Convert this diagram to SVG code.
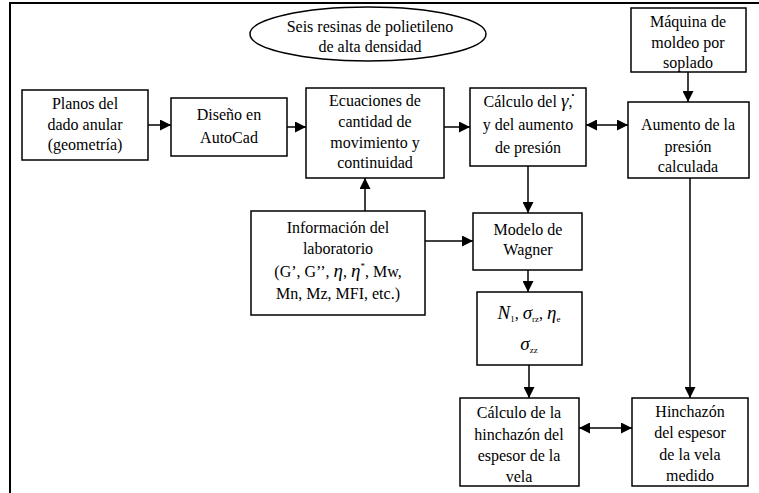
<svg xmlns="http://www.w3.org/2000/svg" width="759" height="493" viewBox="0 0 759 493">
<defs>
<style>
.box{fill:#fff;stroke:#000;stroke-width:1.5}
.t{font-family:"Liberation Serif","Times New Roman",serif;font-size:16px;fill:#000;text-anchor:middle}
.c{fill:none;stroke:#000;stroke-width:1.5;marker-end:url(#ah)}
.d{marker-start:url(#ah)}
.i{font-style:italic}
.m{font-style:italic;font-size:19px}
.s{font-size:9px}
</style>
<marker id="ah" markerUnits="userSpaceOnUse" markerWidth="11" markerHeight="11" refX="10" refY="5" orient="auto-start-reverse" viewBox="0 0 10 10">
<path d="M0,0 L10,5 L0,10 z" fill="#000"/>
</marker>
</defs>
<rect width="759" height="493" fill="#fff"/>
<path d="M10,493 V3 H759" fill="none" stroke="#000" stroke-width="2"/>

<g id="connectors">
<path class="c" d="M148,125 H171"/>
<path class="c" d="M287,127 H306"/>
<path class="c" d="M444,127 H470"/>
<path class="c d" d="M586,125 H628"/>
<path class="c" d="M688,72 V102"/>
<path class="c" d="M365,211 V178"/>
<path class="c" d="M425,241 H473"/>
<path class="c" d="M528,166 V213"/>
<path class="c" d="M528,270 V292"/>
<path class="c" d="M529,365 V398"/>
<path class="c" d="M690,178 V398"/>
<path class="c d" d="M579,428 H632"/>
</g>

<g id="resinas">
<ellipse class="box" cx="368" cy="34" rx="118" ry="27"/>
<text class="t" x="370" y="32">Seis resinas de polietileno</text>
<text class="t" x="370" y="52">de alta densidad</text>
</g>

<g id="planos">
<rect class="box" x="22" y="90" width="126" height="70"/>
<text class="t" x="85" y="109">Planos del</text>
<text class="t" x="85" y="130">dado anular</text>
<text class="t" x="85" y="150">(geometría)</text>
</g>

<g id="diseno">
<rect class="box" x="171" y="98" width="116" height="58"/>
<text class="t" x="229" y="120">Diseño en</text>
<text class="t" x="229" y="143">AutoCad</text>
</g>

<g id="ecuaciones">
<rect class="box" x="306" y="88" width="138" height="90"/>
<text class="t" x="375" y="106">Ecuaciones de</text>
<text class="t" x="375" y="127">cantidad de</text>
<text class="t" x="375" y="148">movimiento y</text>
<text class="t" x="375" y="168">continuidad</text>
</g>

<g id="calculo-gamma">
<rect class="box" x="470" y="88" width="116" height="78"/>
<text class="t" x="528" y="107">Cálculo del <tspan class="m">γ̇</tspan>,</text>
<text class="t" x="528" y="130">y del aumento</text>
<text class="t" x="528" y="153">de presión</text>
</g>

<g id="maquina">
<rect class="box" x="631" y="8" width="115" height="64"/>
<text class="t" x="688" y="27">Máquina de</text>
<text class="t" x="688" y="48">moldeo por</text>
<text class="t" x="688" y="68">soplado</text>
</g>

<g id="aumento">
<rect class="box" x="628" y="102" width="121" height="76"/>
<text class="t" x="688" y="130">Aumento de la</text>
<text class="t" x="688" y="152">presión</text>
<text class="t" x="688" y="172">calculada</text>
</g>

<g id="informacion">
<rect class="box" x="251" y="211" width="174" height="104"/>
<text class="t" x="338" y="233">Información del</text>
<text class="t" x="338" y="254">laboratorio</text>
<text class="t" x="338" y="277">(G’, G’’, <tspan class="m">η</tspan>, <tspan class="m">η</tspan><tspan class="s" dy="-8">*</tspan><tspan dy="8">, Mw,</tspan></text>
<text class="t" x="338" y="299">Mn, Mz, MFI, etc.)</text>
</g>

<g id="wagner">
<rect class="box" x="473" y="213" width="109" height="57"/>
<text class="t" x="528" y="235">Modelo de</text>
<text class="t" x="528" y="255">Wagner</text>
</g>

<g id="resultados">
<rect class="box" x="477" y="292" width="105" height="73"/>
<text class="t" x="529" y="319"><tspan class="m">N</tspan><tspan class="s" dy="3">1</tspan><tspan dy="-3">, </tspan><tspan class="m">σ</tspan><tspan class="s" dy="3">rz</tspan><tspan dy="-3">, </tspan><tspan class="m">η</tspan><tspan class="s" dy="3">e</tspan></text>
<text class="t" x="529" y="350"><tspan class="m">σ</tspan><tspan class="s" dy="3">zz</tspan></text>
</g>

<g id="calculo-hinchazon">
<rect class="box" x="460" y="398" width="119" height="88"/>
<text class="t" x="519" y="418">Cálculo de la</text>
<text class="t" x="519" y="440">hinchazón del</text>
<text class="t" x="519" y="461">espesor de la</text>
<text class="t" x="519" y="482">vela</text>
</g>

<g id="hinchazon-medido">
<rect class="box" x="632" y="398" width="116" height="88"/>
<text class="t" x="690" y="417">Hinchazón</text>
<text class="t" x="690" y="438">del espesor</text>
<text class="t" x="690" y="460">de la vela</text>
<text class="t" x="690" y="481">medido</text>
</g>
</svg>
